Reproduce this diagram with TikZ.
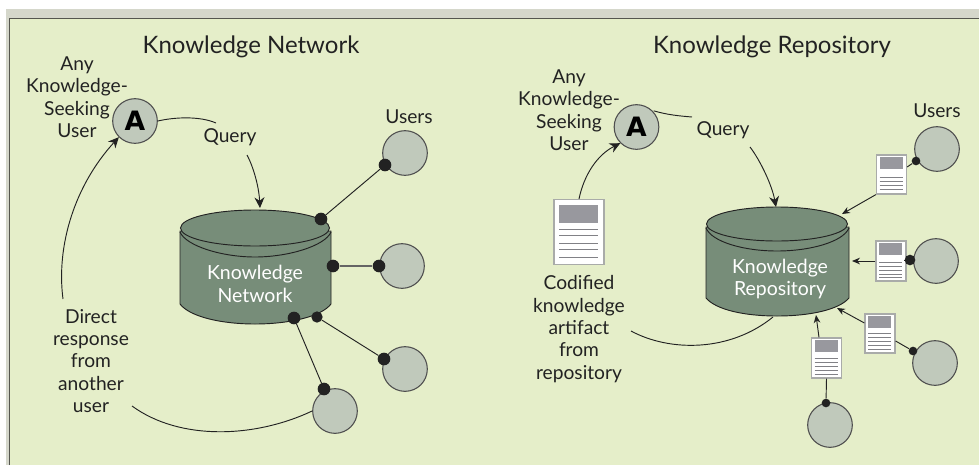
\documentclass[tikz,border=0pt]{standalone}
\usepackage{fontspec}
\setmainfont{Lato}
\newfontfamily\afont[BoldFont={DejaVu Sans Bold}]{DejaVu Sans}
\usetikzlibrary{arrows.meta}
\definecolor{bgreen}{HTML}{E5EEC9}
\definecolor{band}{HTML}{D5D7CB}
\definecolor{frameline}{HTML}{55564F}
\definecolor{usergrey}{HTML}{C0C9BB}
\definecolor{cyl}{HTML}{778D79}
\definecolor{ink}{HTML}{222222}
\definecolor{docgrey}{HTML}{98989E}
\definecolor{docedge}{HTML}{A9ABA9}
\tikzset{
  usercirc/.style={circle,draw=ink!80,line width=0.8pt,fill=usergrey,minimum size=33.5pt,inner sep=0pt},
  acirc/.style={usercirc,font=\fontsize{20}{20}\afont\bfseries},
  bigdot/.style={circle,fill=ink,minimum size=9.5pt,inner sep=0pt},
  smalldot/.style={circle,fill=ink,minimum size=6.5pt,inner sep=0pt},
  lbl/.style={align=center,text=ink,font=\fontsize{14.4}{16.8}\selectfont,inner sep=0pt},
  ttl/.style={text=ink,font=\fontsize{18}{19}\selectfont,inner sep=0pt},
  cyltxt/.style={align=center,text=white,font=\fontsize{14.6}{16.8}\selectfont,inner sep=0pt},
  wire/.style={draw=ink,line width=0.7pt},
  arr/.style={wire,-{Stealth[length=8pt,width=7.5pt]}},
  arrs/.style={wire,-{Stealth[length=6pt,width=5pt]}},
  cylbody/.style={fill=cyl,draw=ink,line width=0.7pt},
  docbox/.style={rectangle,draw=docedge,line width=0.9pt,fill=white,inner sep=0pt},
  docbar/.style={fill=docgrey},
  docline/.style={draw=docgrey!85!black,line width=0.6pt}
}
% #1 name, #2 cx, #3 cy, #4 w, #5 h, #6 header top, #7 line fractions
\newcommand{\docicon}[7]{%
  \node[docbox,minimum width=#4*0.75pt,minimum height=#5*0.75pt] (#1) at (#2,#3) {};
  \begin{scope}[shift={(#1.north west)},x=#4*0.75pt,y=-#5*0.75pt]
    \fill[docbar] (0.12,#6) rectangle (0.89,0.37);
    \foreach \f in {#7} \draw[docline] (0.12,\f) -- (0.89,\f);
  \end{scope}}
% #1 left, #2 right, #3 cx, #4 top ellipse cy, #5 ry, #6 rim offset, #7 side bottom y, #8 bottom-curve depth
\newcommand{\cylshape}[8]{%
  \pgfmathsetmacro{\rx}{(#2-#1)/2}
  \filldraw[cylbody] (#1,#4+3) -- (#1,#7) .. controls (#1+10,#7+#8*0.65) and (#3-33,#7+#8) .. (#3,#7+#8)
     .. controls (#3+33,#7+#8) and (#2-10,#7+#8*0.65) .. (#2,#7) -- (#2,#4+3) -- cycle;
  \draw[wire] (#1,#4+4) .. controls (#1+6,#4+18) and (#3-33,#4+#5+#6) .. (#3,#4+#5+#6)
     .. controls (#3+33,#4+#5+#6) and (#2-6,#4+18) .. (#2,#4+4);
  \filldraw[cylbody] (#3,#4) ellipse [x radius=\rx-1,y radius=#5];}
\begin{document}
\begin{tikzpicture}[x=0.75pt,y=-0.75pt]
\useasboundingbox (0,0) rectangle (979,465);
\fill[white] (0,0) rectangle (979,465);
\fill[band] (6,9) rectangle (979,465);
\fill[bgreen] (10,19) rectangle (979,465);
\draw[frameline,line width=1pt] (9.5,465) -- (9.5,18.5) -- (979,18.5);

% ---------- left panel
\node[ttl] (t1) at (251,47) {Knowledge Network};
\cylshape{180}{331}{255}{228}{18}{11}{304}{20}
\node[cyltxt] (c1) at (255,284) {Knowledge\\Network};
\coordinate (c1query) at (260,208);

\node[acirc] (a1) at (135,121) {A};
\node[usercirc] (u1) at (405,153) {};
\node[usercirc] (u2) at (402,266) {};
\node[usercirc] (u3) at (405,369) {};
\node[usercirc] (u4) at (335,411) {};

\node[lbl] (any1) at (77,97) {Any\\Knowledge-\\Seeking\\User};
\node[lbl] (q1) at (230,137) {Query};
\node[lbl] (users1) at (409,117) {Users};
\node[lbl] (dr1) at (91,361) {Direct\\response\\from\\another\\user};

\node[bigdot] (d1a) at (321,219) {};
\node[bigdot] (d1b) at (385,165) {};
\node[bigdot] (d2a) at (333,266) {};
\node[bigdot] (d2b) at (379,266) {};
\node[bigdot,minimum size=8.5pt] (d3a) at (317,317) {};
\node[bigdot] (d3b) at (384,359) {};
\node[bigdot] (d4a) at (294,318) {};
\node[bigdot] (d4b) at (324,389) {};
\draw[wire] (d1a) -- (d1b);
\draw[wire,draw=ink!70,line width=1pt] (d2a) -- (d2b);
\draw[wire] (d3a) -- (d3b);
\draw[wire] (d4a) -- (d4b);

\coordinate (q1s) at (216,123);
\coordinate (q1e) at (247,155);
\coordinate (dr1s) at (63,299);
\coordinate (dr2s) at (132,406);
\draw[wire] (a1.east) .. controls (175,117) and (200,116) .. (q1s);
\draw[arr] (q1e) .. controls (254,168) and (259,188) .. (c1query);
\draw[arr] (dr1s) .. controls (56,245) and (75,185) .. (a1.south west);
\draw[wire] (dr2s) .. controls (180,441) and (255,438) .. (u4.west);

% ---------- right panel
\node[ttl] (t2) at (772,47) {Knowledge Repository};
\cylshape{706}{849}{777}{224}{17}{10}{298}{18}
\node[cyltxt] (c2) at (780,279) {Knowledge\\Repository};
\coordinate (c2query) at (776,207);
\coordinate (c2tr) at (842,214);
\coordinate (c2r) at (852,261);
\coordinate (c2br) at (837,308);
\coordinate (c2b) at (816,315);
\coordinate (c2bl) at (773,317);

\node[acirc] (a2) at (636.5,127) {A};
\node[usercirc] (v1) at (937,149) {};
\node[usercirc] (v2) at (936,261) {};
\node[usercirc] (v3) at (935,363) {};
\node[usercirc] (v4) at (830,425) {};

\node[lbl] (any2) at (569,110) {Any\\Knowledge-\\Seeking\\User};
\node[lbl] (q2) at (723,130) {Query};
\node[lbl] (users2) at (937,111) {Users};
\node[lbl] (cod) at (579,329) {Codified\\knowledge\\artifact\\from\\repository};

\docicon{big}{579}{232}{50}{65}{0.09}{0.47,0.56,0.68,0.78,0.90}
\docicon{p1}{891.5}{174.5}{30}{39}{0.07}{0.58,0.69,0.79,0.91}
\docicon{p2}{891}{261}{30}{40}{0.07}{0.54,0.64,0.74,0.84,0.93}
\docicon{p3}{880}{333.5}{30}{39}{0.07}{0.52,0.62,0.72,0.82,0.92}
\docicon{p4}{826.5}{358}{30}{40}{0.07}{0.52,0.62,0.72,0.82,0.92}

\node[smalldot] (e1) at (916,161) {};
\node[smalldot,minimum size=8pt] (e2) at (910,260) {};
\node[smalldot] (e3) at (913,351) {};
\node[smalldot] (e4) at (826,403) {};

\draw[wire] (e1) -- (p1.east |- 0,167);
\draw[wire] (e2) -- (p2.east |- e2);
\draw[wire] (e3) -- (p3.east |- 0,341);
\draw[wire] (e4) -- (p4.south);

\draw[arrs] (p1.south west) -- (c2tr);
\draw[arrs] (p2.west) -- (c2r);
\draw[arrs] (p3.west |- 0,323) -- (c2br);
\draw[arrs] (p4.north west -| 819,0) -- (c2b);

\coordinate (q2s) at (692,117);
\coordinate (q2e) at (750,147);
\coordinate (cods) at (631,331);
\draw[wire] (a2.north east) ++(1,0) .. controls (668,115) and (680,116) .. (q2s);
\draw[arr] (q2e) .. controls (760,160) and (772,185) .. (c2query);
\draw[arr] (big.north) .. controls (584,175) and (597,155) .. (a2.south west);
\draw[wire] (cods) .. controls (670,352) and (730,352) .. (c2bl);
\end{tikzpicture}
\end{document}
